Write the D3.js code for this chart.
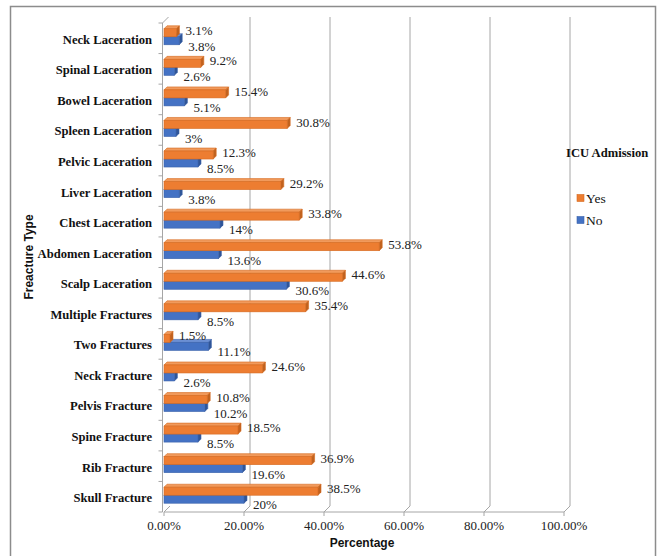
<!DOCTYPE html>
<html>
<head>
<meta charset="utf-8">
<script src="https://cdn.jsdelivr.net/npm/d3@7/dist/d3.min.js"></script>
<style>
  html, body { margin: 0; padding: 0; background: #fff; }
  svg { display: block; }
</style>
</head>
<body>
<svg id="chart" width="664" height="556"></svg>
<script>
// Injury types, listed top to bottom
const categories = [
  "Neck Laceration", "Spinal Laceration", "Bowel Laceration", "Spleen Laceration",
  "Pelvic Laceration", "Liver Laceration", "Chest Laceration", "Abdomen Laceration",
  "Scalp Laceration", "Multiple Fractures", "Two Fractures", "Neck Fracture",
  "Pelvis Fracture", "Spine Fracture", "Rib Fracture", "Skull Fracture"
];
// ICU admission = Yes (percent)
const yesValues = [3.1, 9.2, 15.4, 30.8, 12.3, 29.2, 33.8, 53.8, 44.6, 35.4, 1.5, 24.6, 10.8, 18.5, 36.9, 38.5];
// ICU admission = No (percent)
const noValues = [3.8, 2.6, 5.1, 3, 8.5, 3.8, 14, 13.6, 30.6, 8.5, 11.1, 2.6, 10.2, 8.5, 19.6, 20];
// X axis ticks
const xTicks = [0, 20, 40, 60, 80, 100];
const seriesNames = ["Yes", "No"];

const svg = d3.select("#chart");
const serif = "'Liberation Serif', 'Times New Roman', serif";
const sans = "'Liberation Sans', Arial, sans-serif";

// Outer frame
svg.append("rect")
  .attr("x", 10.5).attr("y", 6.5).attr("width", 645).attr("height", 560)
  .attr("fill", "none").attr("stroke", "#8c8c8c").attr("stroke-width", 1.5);

const plotTop = 23, plotBottom = 512;
const x = d3.scaleLinear().domain([0, 100]).range([164, 564]);
const y = d3.scaleBand().domain(categories).range([plotTop, plotBottom]);
const depth = 6;     // wall depth offset
const barDepth = 3;  // bar 3D depth
const barH = 8;

const grid = svg.append("g").attr("stroke", "#a6a6a6").attr("stroke-width", 1).attr("fill", "none");
// Back wall gridlines and floor diagonals
xTicks.forEach(t => {
  const fx = x(t);
  if (t > 0) {
    grid.append("line")
      .attr("x1", fx + depth).attr("x2", fx + depth)
      .attr("y1", plotTop - depth).attr("y2", plotBottom - depth);
  }
  grid.append("line")
    .attr("x1", fx + depth).attr("y1", plotBottom - depth)
    .attr("x2", fx).attr("y2", plotBottom);
  grid.append("line")
    .attr("x1", fx).attr("x2", fx)
    .attr("y1", plotBottom).attr("y2", plotBottom + 4);
});
// Floor front edge
grid.append("line")
  .attr("x1", x(0)).attr("x2", x(100))
  .attr("y1", plotBottom).attr("y2", plotBottom);

// Category axis (left wall)
const axisX = x(0) - 1.5;
grid.append("line")
  .attr("x1", axisX).attr("x2", axisX)
  .attr("y1", plotTop).attr("y2", plotBottom);
grid.append("line")
  .attr("x1", axisX).attr("y1", plotTop)
  .attr("x2", axisX + depth).attr("y2", plotTop - depth);
categories.forEach(c => {
  const yy = y(c);
  grid.append("line")
    .attr("x1", axisX - 4).attr("x2", axisX)
    .attr("y1", yy).attr("y2", yy);
});
grid.append("line")
  .attr("x1", axisX - 4).attr("x2", axisX)
  .attr("y1", plotBottom).attr("y2", plotBottom);

// Bars
const palette = {
  Yes: { front: "#ED7D31", top: "#F19A5C", side: "#C0621F", edge: "#D5691F" },
  No:  { front: "#4472C4", top: "#6B8FD3", side: "#2F5597", edge: "#3A62AA" }
};

function drawBar(g, value, yTop, col) {
  const x0 = x(0), x1 = x(value);
  // top face
  g.append("path")
    .attr("d", `M${x0},${yTop} L${x0 + barDepth},${yTop - barDepth} L${x1 + barDepth},${yTop - barDepth} L${x1},${yTop} Z`)
    .attr("fill", col.top).attr("stroke", col.edge).attr("stroke-width", 0.6);
  // side face
  g.append("path")
    .attr("d", `M${x1},${yTop} L${x1 + barDepth},${yTop - barDepth} L${x1 + barDepth},${yTop + barH - barDepth} L${x1},${yTop + barH} Z`)
    .attr("fill", col.side).attr("stroke", col.edge).attr("stroke-width", 0.6);
  // front face
  g.append("rect")
    .attr("x", x0).attr("y", yTop).attr("width", Math.max(0, x1 - x0)).attr("height", barH)
    .attr("fill", col.front).attr("stroke", col.edge).attr("stroke-width", 0.6);
}

const bars = svg.append("g");
categories.forEach((c, i) => {
  const mid = y(c) + y.bandwidth() / 2 - 1.5;
  drawBar(bars, noValues[i], mid, palette.No);
  drawBar(bars, yesValues[i], mid - barH, palette.Yes);
});

// Value labels
const lbl = svg.append("g")
  .attr("font-family", serif).attr("font-size", 13).attr("fill", "#222");
categories.forEach((c, i) => {
  const mid = y(c) + y.bandwidth() / 2 - 1.5;
  lbl.append("text")
    .attr("x", x(yesValues[i]) + 9).attr("y", mid - barH / 2 - 2.5)
    .attr("dy", "0.35em").text(yesValues[i] + "%");
  lbl.append("text")
    .attr("x", x(noValues[i]) + 9).attr("y", mid + barH / 2 + 5.5)
    .attr("dy", "0.35em").text(noValues[i] + "%");
});

// Category labels
const catLbl = svg.append("g")
  .attr("font-family", serif).attr("font-size", 12.6).attr("font-weight", "bold")
  .attr("fill", "#111").attr("text-anchor", "end");
categories.forEach(c => {
  catLbl.append("text")
    .attr("x", 152).attr("y", y(c) + y.bandwidth() / 2 + 1)
    .attr("dy", "0.35em").text(c);
});

// X tick labels
const fmt = d3.format(".2%");
const xLbl = svg.append("g")
  .attr("font-family", serif).attr("font-size", 13).attr("fill", "#222")
  .attr("text-anchor", "middle");
xTicks.forEach(t => {
  xLbl.append("text").attr("x", x(t)).attr("y", 525).attr("dy", "0.35em").text(fmt(t / 100));
});

// Axis titles
svg.append("text")
  .attr("x", 362).attr("y", 543).attr("dy", "0.35em")
  .attr("text-anchor", "middle").attr("font-family", sans).attr("font-weight", "bold")
  .attr("font-size", 12).attr("fill", "#111").text("Percentage");
svg.append("text")
  .attr("transform", "translate(29,257) rotate(-90)")
  .attr("dy", "0.35em")
  .attr("text-anchor", "middle").attr("font-family", sans).attr("font-weight", "bold")
  .attr("font-size", 12).attr("fill", "#111").text("Freacture Type");

// Legend
const leg = svg.append("g").attr("font-family", serif).attr("fill", "#111");
leg.append("text")
  .attr("x", 566).attr("y", 153).attr("dy", "0.35em")
  .attr("font-size", 12.6).attr("font-weight", "bold").text("ICU Admission");
seriesNames.forEach((s, i) => {
  const ly = 198 + i * 22;
  leg.append("rect")
    .attr("x", 577).attr("y", ly - 3.5).attr("width", 7).attr("height", 7)
    .attr("fill", palette[s].front).attr("stroke", palette[s].edge).attr("stroke-width", 0.6);
  leg.append("text")
    .attr("x", 586).attr("y", ly).attr("dy", "0.35em")
    .attr("font-size", 13.5).text(s);
});
</script>
</body>
</html>
